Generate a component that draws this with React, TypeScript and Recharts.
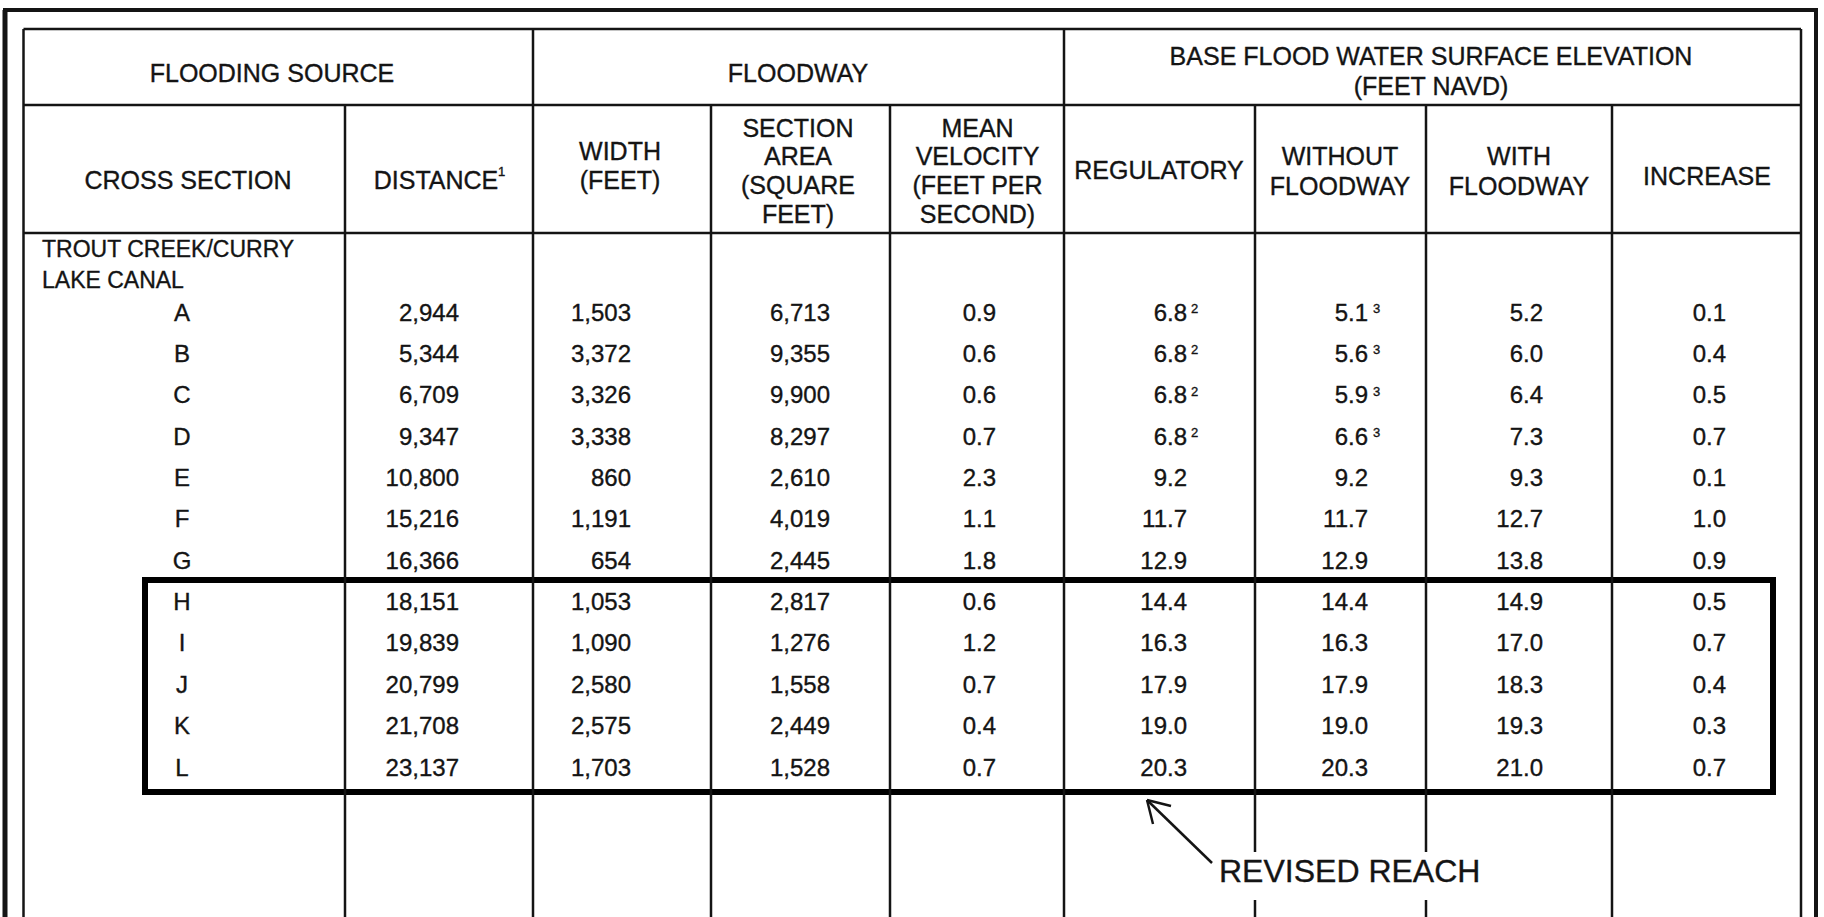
import React from 'react';
import { ScatterChart, Scatter, XAxis, YAxis, ReferenceLine, ReferenceArea } from 'recharts';

// ---- data ----
const crossSections = ['A', 'B', 'C', 'D', 'E', 'F', 'G', 'H', 'I', 'J', 'K', 'L'];
const distance = [2944, 5344, 6709, 9347, 10800, 15216, 16366, 18151, 19839, 20799, 21708, 23137];
const width = [1503, 3372, 3326, 3338, 860, 1191, 654, 1053, 1090, 2580, 2575, 1703];
const sectionArea = [6713, 9355, 9900, 8297, 2610, 4019, 2445, 2817, 1276, 1558, 2449, 1528];
const meanVelocity = [0.9, 0.6, 0.6, 0.7, 2.3, 1.1, 1.8, 0.6, 1.2, 0.7, 0.4, 0.7];
const regulatory = [6.8, 6.8, 6.8, 6.8, 9.2, 11.7, 12.9, 14.4, 16.3, 17.9, 19.0, 20.3];
const regulatoryNote = ['2', '2', '2', '2', '', '', '', '', '', '', '', ''];
const withoutFloodway = [5.1, 5.6, 5.9, 6.6, 9.2, 11.7, 12.9, 14.4, 16.3, 17.9, 19.0, 20.3];
const withoutNote = ['3', '3', '3', '3', '', '', '', '', '', '', '', ''];
const withFloodway = [5.2, 6.0, 6.4, 7.3, 9.3, 12.7, 13.8, 14.9, 17.0, 18.3, 19.3, 21.0];
const increase = [0.1, 0.4, 0.5, 0.7, 0.1, 1.0, 0.9, 0.5, 0.7, 0.4, 0.3, 0.7];

const sourceName = ['TROUT CREEK/CURRY', 'LAKE CANAL'];
const groupHeaders = ['FLOODING SOURCE', 'FLOODWAY', 'BASE FLOOD WATER SURFACE ELEVATION', '(FEET NAVD)'];
const colHeaders: string[][] = [
  ['CROSS SECTION'],
  ['DISTANCE'],
  ['WIDTH', '(FEET)'],
  ['SECTION', 'AREA', '(SQUARE', 'FEET)'],
  ['MEAN', 'VELOCITY', '(FEET PER', 'SECOND)'],
  ['REGULATORY'],
  ['WITHOUT', 'FLOODWAY'],
  ['WITH', 'FLOODWAY'],
  ['INCREASE'],
];
const annotation = 'REVISED REACH';

// ---- layout ----
const W = 1824;
const H = 917;
const FONT = '"Liberation Sans", Arial, Helvetica, sans-serif';
const INK = '#141414';
const colLines = [23.5, 345, 533, 711, 890, 1064, 1255, 1426, 1612, 1801];
const rowTop = 29;
const row1 = 105;
const row2 = 233;
const firstRow = 312;
const pitch = 41.36;
const rowY = (i: number) => firstRow + i * pitch;
const base = (c: number, size: number) => c + size * 0.358;

type Cell = { x: number; y: number; t: string; a: string; s: number };

const cells: Cell[] = [];
const add = (x: number, cy: number, t: string, a: string, s: number) =>
  cells.push({ x, y: base(cy, s), t, a, s });

// group headers
add(272, 73, groupHeaders[0], 'middle', 25);
add(798, 73, groupHeaders[1], 'middle', 25);
add(1431, 56, groupHeaders[2], 'middle', 25);
add(1431, 86, groupHeaders[3], 'middle', 25);

// column headers
const hdrX = [188, 436, 620, 798, 977.5, 1159, 1340, 1519, 1707];
const hdrY: number[][] = [
  [180],
  [180],
  [151, 180],
  [128, 156.5, 185.5, 214.5],
  [128, 156.5, 185.5, 214.5],
  [170],
  [156, 186],
  [156, 186],
  [176],
];
colHeaders.forEach((lines, ci) => lines.forEach((l, li) => add(hdrX[ci], hdrY[ci][li], l, 'middle', 25)));
cells.push({ x: 498, y: 180 - 4, t: '1', a: 'start', s: 13 });

// flooding source name
add(42, 248.5, sourceName[0], 'start', 23);
add(42, 280, sourceName[1], 'start', 23);

// data rows
const fmtInt = (v: number) => v.toLocaleString('en-US');
const fmt1 = (v: number) => v.toFixed(1);
const rightEdges = [459, 631, 830, 996, 1187, 1368, 1543, 1726];
crossSections.forEach((cs, i) => {
  const c = rowY(i);
  add(182, c, cs, 'middle', 24);
  add(rightEdges[0], c, fmtInt(distance[i]), 'end', 24);
  add(rightEdges[1], c, fmtInt(width[i]), 'end', 24);
  add(rightEdges[2], c, fmtInt(sectionArea[i]), 'end', 24);
  add(rightEdges[3], c, fmt1(meanVelocity[i]), 'end', 24);
  add(rightEdges[4], c, fmt1(regulatory[i]), 'end', 24);
  add(rightEdges[5], c, fmt1(withoutFloodway[i]), 'end', 24);
  add(rightEdges[6], c, fmt1(withFloodway[i]), 'end', 24);
  add(rightEdges[7], c, fmt1(increase[i]), 'end', 24);
  if (regulatoryNote[i]) cells.push({ x: rightEdges[4] + 4, y: c + 1, t: regulatoryNote[i], a: 'start', s: 13 });
  if (withoutNote[i]) cells.push({ x: rightEdges[5] + 5, y: c + 1, t: withoutNote[i], a: 'start', s: 13 });
});

// annotation
cells.push({ x: 1219, y: 882, t: annotation, a: 'start', s: 32 });

const CellText = (p: any) => {
  const d = p.payload as Cell;
  return (
    <text
      x={p.cx}
      y={p.cy}
      textAnchor={d.a}
      fontSize={d.s}
      fontFamily={FONT}
      fill={INK}
      stroke={INK}
      strokeWidth={0.35}
    >
      {d.t}
    </text>
  );
};

type Seg = { x1: number; y1: number; x2: number; y2: number; w: number };
const segs: Seg[] = [];
const seg = (x1: number, y1: number, x2: number, y2: number, w = 2.5) => segs.push({ x1, y1, x2, y2, w });

// outer frame
seg(5, 10, 5, H, 5);
seg(3, 10, 1818, 10, 4);
seg(1816, 10, 1816, H, 4);
// table frame
seg(colLines[0], rowTop, colLines[0], H);
seg(colLines[9], rowTop, colLines[9], H);
seg(colLines[0], rowTop, colLines[9], rowTop);
seg(colLines[0], row1, colLines[9], row1);
seg(colLines[0], row2, colLines[9], row2);
// group separators (full height)
seg(colLines[2], rowTop, colLines[2], H);
seg(colLines[5], rowTop, colLines[5], H);
// inner column separators
[1, 3, 4, 8].forEach((k) => seg(colLines[k], row1, colLines[k], H));
// separators broken by the annotation label
[6, 7].forEach((k) => {
  seg(colLines[k], row1, colLines[k], 852);
  seg(colLines[k], 900, colLines[k], H);
});
// arrow
seg(1212, 863, 1147, 800, 2.5);
seg(1147, 800, 1171, 806, 2.5);
seg(1147, 800, 1153, 824, 2.5);

export default function App() {
  return (
    <div style={{ position: 'absolute', left: 0, top: 0, width: W, height: H, background: '#fff' }}>
      <ScatterChart width={W} height={H} margin={{ top: 0, right: 0, bottom: 0, left: 0 }}>
        <XAxis type="number" dataKey="x" domain={[0, W]} hide allowDataOverflow />
        <YAxis type="number" dataKey="y" domain={[0, H]} reversed hide allowDataOverflow />
        {segs.map((s, i) => (
          <ReferenceLine
            key={i}
            segment={[{ x: s.x1, y: s.y1 }, { x: s.x2, y: s.y2 }]}
            stroke={INK}
            strokeWidth={s.w}
            ifOverflow="visible"
          />
        ))}
        <ReferenceArea
          x1={145}
          x2={1773}
          y1={580}
          y2={792}
          fill="none"
          fillOpacity={0}
          stroke="#000"
          strokeWidth={6}
          ifOverflow="visible"
        />
        <Scatter data={cells} isAnimationActive={false} shape={CellText} />
      </ScatterChart>
    </div>
  );
}
